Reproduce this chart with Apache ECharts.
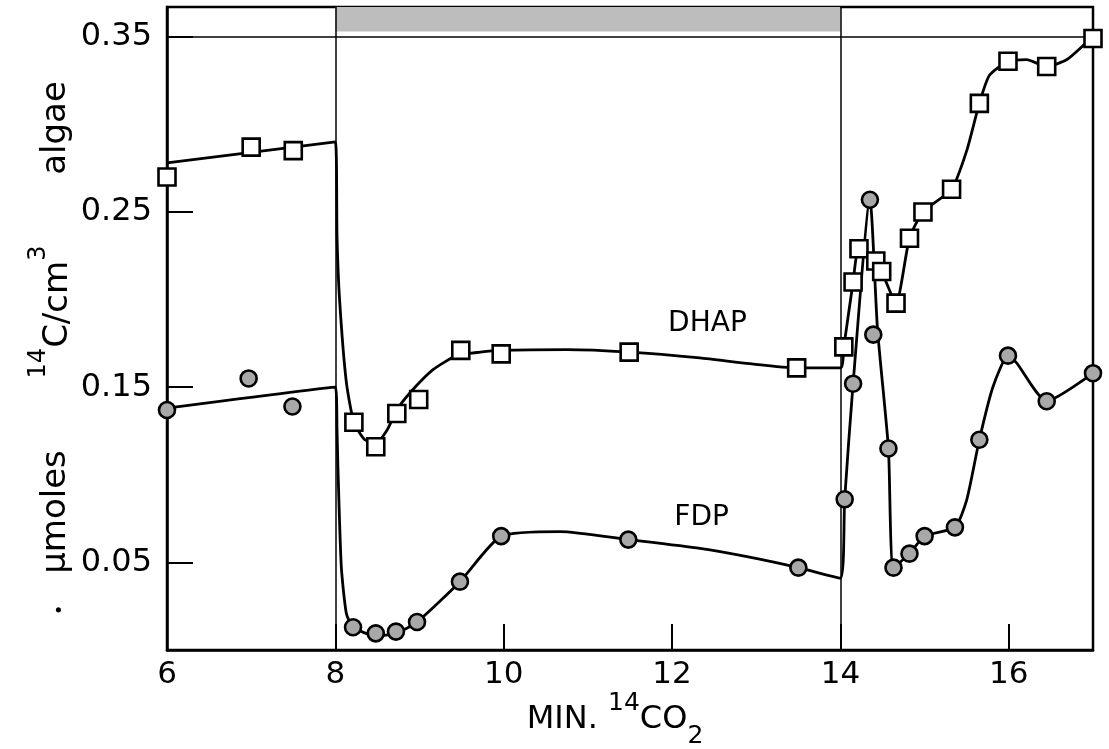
<!DOCTYPE html>
<html>
<head>
<meta charset="utf-8">
<script src="https://cdn.jsdelivr.net/npm/echarts@6/dist/echarts.min.js"></script>
<style>
  html, body { margin: 0; padding: 0; background: #fff; }
  #chart { width: 1109px; height: 749px; }
</style>
</head>
<body>
<div id="chart"></div>
<script>
var xTicks = [6, 8, 10, 12, 14, 16];
var yTicks = [0.05, 0.15, 0.25, 0.35];

// measured points [min, umoles]
var dhapPoints = [
    [6.0, 0.270], [7.0, 0.287], [7.5, 0.285],
    [8.22, 0.130], [8.48, 0.116], [8.73, 0.135], [8.99, 0.143], [9.49, 0.171],
    [9.97, 0.169], [11.49, 0.170], [13.48, 0.161],
    [14.04, 0.173], [14.15, 0.210], [14.22, 0.229], [14.42, 0.222], [14.49, 0.216],
    [14.66, 0.198], [14.82, 0.235], [14.98, 0.250], [15.32, 0.263], [15.65, 0.312],
    [15.99, 0.336], [16.45, 0.333], [17.0, 0.349]
];
var fdpPoints = [
    [6.0, 0.137], [6.97, 0.155], [7.49, 0.139],
    [8.21, 0.013], [8.48, 0.0095], [8.72, 0.0105], [8.97, 0.016], [9.48, 0.039],
    [9.97, 0.065], [11.48, 0.063], [13.5, 0.047],
    [14.05, 0.086], [14.15, 0.152], [14.35, 0.257], [14.39, 0.180], [14.57, 0.115],
    [14.63, 0.047], [14.82, 0.055], [15.0, 0.065], [15.36, 0.070], [15.65, 0.120],
    [15.99, 0.168], [16.45, 0.142], [17.0, 0.158]
];

// hand-drawn curves
var dhapCurve = [
    [6.0, 0.278], [8.0, 0.290], [8.02, 0.235], [8.05, 0.200], [8.13, 0.153],
    [8.22, 0.130], [8.35, 0.120], [8.5, 0.119], [8.62, 0.126], [8.73, 0.137],
    [8.89, 0.147], [9.16, 0.160], [9.44, 0.168], [9.72, 0.170], [9.97, 0.171],
    [10.75, 0.1714], [11.49, 0.170], [12.33, 0.1667], [12.92, 0.1634], [13.48, 0.161],
    [14.0, 0.161], [14.04, 0.173], [14.15, 0.210], [14.22, 0.229], [14.42, 0.222],
    [14.49, 0.216], [14.66, 0.198], [14.82, 0.235], [14.98, 0.250], [15.32, 0.263],
    [15.5, 0.285], [15.65, 0.312], [15.77, 0.328], [15.99, 0.336], [16.21, 0.337],
    [16.45, 0.333], [16.69, 0.337], [16.93, 0.347], [17.0, 0.349]
];
var fdpCurve = [
    [6.0, 0.138], [8.0, 0.150], [8.02, 0.125], [8.03, 0.105], [8.07, 0.048],
    [8.13, 0.021], [8.21, 0.013], [8.48, 0.008], [8.72, 0.0095], [8.97, 0.016],
    [9.48, 0.039], [9.97, 0.065], [10.67, 0.0676], [11.48, 0.063], [12.33, 0.058],
    [12.92, 0.053], [13.5, 0.047], [14.0, 0.041],
    [14.05, 0.086], [14.15, 0.152], [14.35, 0.257], [14.44, 0.183], [14.57, 0.115],
    [14.63, 0.047], [14.82, 0.055], [15.0, 0.065], [15.36, 0.070], [15.5, 0.0857],
    [15.65, 0.120], [15.81, 0.150], [15.99, 0.168], [16.09, 0.164], [16.45, 0.142],
    [17.0, 0.158]
];

var lightOff = [8, 14];   // dark period
var barLevel = 0.353;
var yTop = 0.367;

var font = 'DejaVu Sans';

var chart = echarts.init(document.getElementById('chart'), null, { renderer: 'canvas' });

var option = {
    animation: false,
    backgroundColor: '#fff',
    grid: {
        left: 167, right: 16, top: 7, bottom: 99,
        show: true, borderColor: '#000', borderWidth: 2.5
    },
    xAxis: {
        type: 'value',
        min: 6, max: 17,
        axisLine: { lineStyle: { color: '#000', width: 2.5 } },
        axisTick: { inside: true, length: 26, customValues: xTicks, lineStyle: { color: '#000', width: 2 } },
        axisLabel: { customValues: xTicks, color: '#000', fontSize: 31, fontFamily: font, margin: 9 },
        splitLine: { show: false }
    },
    yAxis: {
        type: 'value',
        min: 0, max: yTop,
        axisLine: { show: true, lineStyle: { color: '#000', width: 2.5 } },
        axisTick: { show: true, inside: true, length: 26, customValues: yTicks, lineStyle: { color: '#000', width: 2 } },
        axisLabel: {
            customValues: yTicks, color: '#000', fontSize: 32, fontFamily: font, margin: 15,
            formatter: function (v) { return v.toFixed(2); }
        },
        splitLine: { show: false }
    },
    graphic: [
        { type: 'text', x: 56, y: 128, rotation: Math.PI / 2,
          style: { text: 'algae', fontSize: 34, fontFamily: font, fill: '#000', align: 'center', verticalAlign: 'middle' } },
        { type: 'text', x: 51, y: 312, rotation: Math.PI / 2,
          style: {
              text: '{s|14}{t|C/cm}{s|3}',
              align: 'center', verticalAlign: 'middle',
              rich: {
                  t: { fontSize: 34, fontFamily: font, fill: '#000', lineHeight: 48, verticalAlign: 'bottom' },
                  s: { fontSize: 24, fontFamily: font, fill: '#000', lineHeight: 24, verticalAlign: 'top' }
              }
          } },
        { type: 'text', x: 56, y: 512, rotation: Math.PI / 2,
          style: { text: 'μmoles', fontSize: 34, fontFamily: font, fill: '#000', align: 'center', verticalAlign: 'middle' } },
        { type: 'text', x: 60, y: 610, rotation: Math.PI / 2,
          style: { text: '•', fontSize: 18, fontFamily: font, fill: '#000', align: 'center', verticalAlign: 'middle' } },
        { type: 'text', x: 615, y: 720,
          style: {
              text: '{t|MIN. }{s|14}{t|CO}{b|2}',
              align: 'center', verticalAlign: 'middle',
              rich: {
                  t: { fontSize: 32, fontFamily: font, fill: '#000', lineHeight: 58, verticalAlign: 'middle' },
                  s: { fontSize: 25, fontFamily: font, fill: '#000', lineHeight: 25, verticalAlign: 'top' },
                  b: { fontSize: 25, fontFamily: font, fill: '#000', lineHeight: 25, verticalAlign: 'bottom' }
              }
          } }
    ],
    series: [
        {
            name: 'frame',
            type: 'line',
            data: [],
            silent: true,
            markArea: {
                silent: true,
                itemStyle: { color: '#bdbdbd' },
                data: [[{ xAxis: lightOff[0], yAxis: barLevel }, { xAxis: lightOff[1], yAxis: yTop }]]
            },
            markLine: {
                silent: true,
                symbol: 'none',
                label: { show: false },
                lineStyle: { color: '#000', width: 1.5, type: 'solid' },
                data: [
                    { xAxis: lightOff[0] },
                    { xAxis: lightOff[1] },
                    { yAxis: barLevel }
                ]
            }
        },
        {
            name: 'DHAP curve',
            type: 'line',
            data: dhapCurve,
            showSymbol: false,
            smooth: 0.2,
            lineStyle: { color: '#000', width: 2.8 },
            z: 3,
            markPoint: {
                symbolSize: 0,
                label: { show: true, position: 'inside', formatter: 'DHAP', color: '#000', fontSize: 28, fontFamily: font },
                data: [{ coord: [12.42, 0.186] }]
            }
        },
        {
            name: 'FDP curve',
            type: 'line',
            data: fdpCurve,
            showSymbol: false,
            smooth: 0.2,
            lineStyle: { color: '#000', width: 2.8 },
            z: 3,
            markPoint: {
                symbolSize: 0,
                label: { show: true, position: 'inside', formatter: 'FDP', color: '#000', fontSize: 28, fontFamily: font },
                data: [{ coord: [12.35, 0.0754] }]
            }
        },
        {
            name: 'DHAP',
            type: 'scatter',
            data: dhapPoints,
            symbol: 'rect',
            symbolSize: 17,
            itemStyle: { color: '#fff', borderColor: '#000', borderWidth: 2.6, opacity: 1 },
            z: 5
        },
        {
            name: 'FDP',
            type: 'scatter',
            data: fdpPoints,
            symbol: 'circle',
            symbolSize: 16,
            itemStyle: { color: '#a8a8a8', borderColor: '#000', borderWidth: 2.6, opacity: 1 },
            z: 5
        }
    ]
};

chart.setOption(option);

window.addEventListener('resize', function () {
    chart.resize();
});
</script>
</body>
</html>
